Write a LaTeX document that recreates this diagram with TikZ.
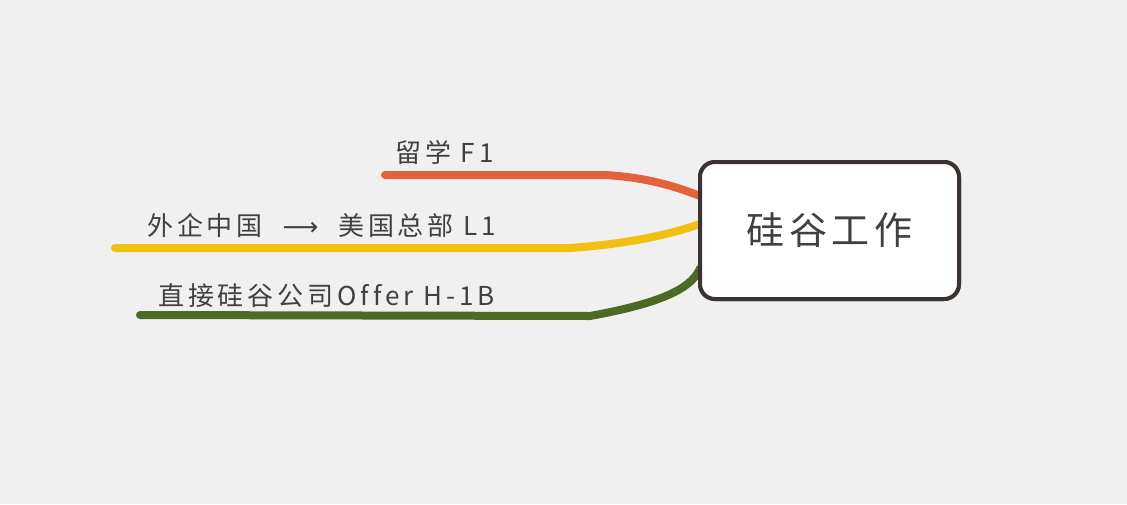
\documentclass[tikz,border=0pt]{standalone}
\usepackage{fontspec}
\setmainfont{Noto Sans CJK SC}
\newfontfamily\lbl[LetterSpace=15,Ligatures=CommonOff]{Noto Sans CJK SC}
\newfontfamily\rootfont[LetterSpace=12]{Noto Sans CJK SC}
\newfontfamily\arr{DejaVu Sans}
\definecolor{bg}{HTML}{F0F0F0}
\definecolor{ink}{HTML}{404040}
\definecolor{boxline}{HTML}{3A3330}
\definecolor{corange}{HTML}{E2633A}
\definecolor{cyellow}{HTML}{F2C012}
\definecolor{cgreen}{HTML}{4D6A25}
\begin{document}
\begin{tikzpicture}[x=1pt,y=-1pt,
  branch/.style={line width=8pt,line cap=round},
  label/.style={anchor=base west,inner sep=0pt,text=ink,font=\lbl\fontsize{26}{30}\selectfont},
  rootbox/.style={draw=boxline,line width=4pt,fill=white,rounded corners=15pt,minimum width=259pt,minimum height=137pt,inner sep=0pt,text=ink,font=\rootfont\fontsize{38}{44}\selectfont}]
\useasboundingbox[fill=bg] (0,0) rectangle (1127,504);
\node[rootbox] (root) at (829.5,230.5) {硅谷工作};
\coordinate (a1) at (385,175);
\coordinate (a2) at (605,175);
\coordinate (b1) at (115,248);
\coordinate (b2) at (570,248);
\coordinate (c1) at (140,315);
\coordinate (c2) at (590,316);
\draw[branch,corange] (a1) -- (a2) .. controls (640,177) and (670,184) .. ([yshift=34.5pt,xshift=2pt]root.west);
\draw[branch,cyellow] (b1) -- (b2) .. controls (625,244) and (665,236) .. ([yshift=6.5pt,xshift=2pt]root.west);
\draw[branch,cgreen] (c1) -- (c2) .. controls (650,305) and (690,292) .. ([yshift=-38pt,xshift=2pt]root.west);
\node[rootbox] at (root.center) {硅谷工作};
\node[label] (t1) at (395,162) {留学 F1};
\node[label] (t2) at (147,235) {外企中国\hspace{10pt} {\arr\fontsize{25}{28}\selectfont ⟶}\hspace{10pt} 美国总部 L1};
\node[label] (t3) at (158,305) {直接硅谷公司Offer H-1B};
\end{tikzpicture}
\end{document}
